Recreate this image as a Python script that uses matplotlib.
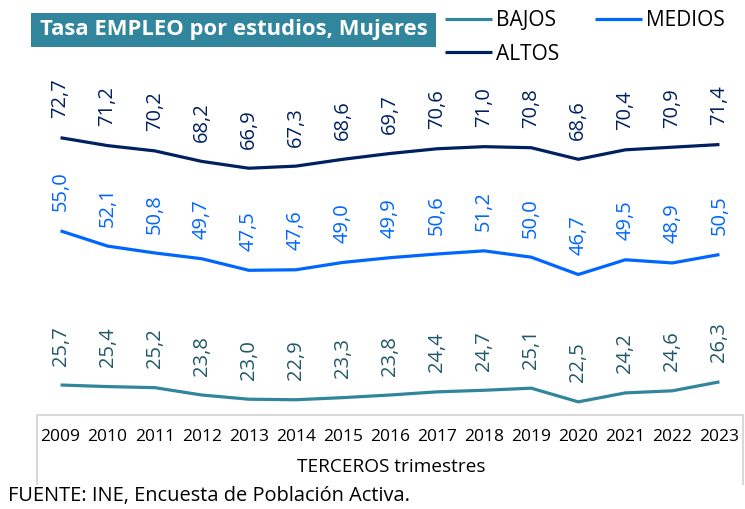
import matplotlib
matplotlib.use("Agg")
import matplotlib.pyplot as plt
from matplotlib.lines import Line2D
from matplotlib.patches import Rectangle

plt.rcParams['font.family'] = ['Open Sans', 'DejaVu Sans']

years = ["2009", "2010", "2011", "2012", "2013", "2014", "2015", "2016",
         "2017", "2018", "2019", "2020", "2021", "2022", "2023"]
bajos = [25.7, 25.4, 25.2, 23.8, 23.0, 22.9, 23.3, 23.8, 24.4, 24.7, 25.1, 22.5, 24.2, 24.6, 26.3]
medios = [55.0, 52.1, 50.8, 49.7, 47.5, 47.6, 49.0, 49.9, 50.6, 51.2, 50.0, 46.7, 49.5, 48.9, 50.5]
altos = [72.7, 71.2, 70.2, 68.2, 66.9, 67.3, 68.6, 69.7, 70.6, 71.0, 70.8, 68.6, 70.4, 70.9, 71.4]

series = [
    ("BAJOS", bajos, "#31869B", "#215867"),
    ("MEDIOS", medios, "#0066FF", "#0066FF"),
    ("ALTOS", altos, "#002060", "#002060"),
]

W, H = 745, 509
fig = plt.figure(figsize=(W / 100, H / 100), dpi=100)
ax = fig.add_axes([37 / W, 1 - 415 / H, (743 - 37) / W, (415 - 73) / H])

x = list(range(len(years)))
handles = {}
for name, vals, col, lcol in series:
    h, = ax.plot(x, vals, color=col, lw=2.3, solid_capstyle='butt', label=name)
    handles[name] = h
    for xi, v in zip(x, vals):
        ax.annotate(f"{v:.1f}".replace(".", ","), (xi, v), xytext=(0, 14),
                    textcoords="offset points", rotation=90, ha="center", va="bottom",
                    fontsize=14.5, color=lcol)

ax.set_xlim(-0.5, len(years) - 0.5)
ax.set_ylim(20, 85)
ax.set_yticks([])
ax.set_xticks(x)
ax.set_xticklabels(years, fontsize=12.5, color="#000000")
ax.tick_params(axis="x", length=0, pad=10)
for s in ["top", "left", "right"]:
    ax.spines[s].set_visible(False)
ax.spines["bottom"].set_color("#D9D9D9")
ax.spines["bottom"].set_linewidth(1.5)

# category axis box edges
for xp in (37, 743):
    fig.add_artist(Line2D([xp / W, xp / W], [1 - 415 / H, 1 - 484 / H],
                          color="#D9D9D9", lw=1.5))

fig.text(391 / W, 1 - 467 / H, "TERCEROS trimestres", ha="center", va="center",
         fontsize=13.7, color="#000000")
fig.text(8 / W, 1 - 496 / H, "FUENTE: INE, Encuesta de Población Activa.",
         ha="left", va="center", fontsize=14.4, color="#000000")

# title box
fig.add_artist(Rectangle((31 / W, 1 - 47 / H), (436 - 31) / W, 34 / H,
                         transform=fig.transFigure, facecolor="#31859C", edgecolor="none"))
fig.text(233.5 / W, 1 - 30 / H, "Tasa EMPLEO por estudios, Mujeres", ha="center",
         va="center", fontsize=15.8, fontweight="bold", color="white")

leg = fig.legend([handles["BAJOS"], handles["ALTOS"], handles["MEDIOS"]],
                 ["BAJOS", "ALTOS", "MEDIOS"], ncol=2, loc="upper left",
                 bbox_to_anchor=(445 / W, 1 - 10 / H), frameon=False, fontsize=15,
                 handlelength=2.25, handletextpad=0.2, columnspacing=1.7,
                 labelspacing=0.6, borderaxespad=0, borderpad=0)

fig.savefig("out.png", dpi=100)
